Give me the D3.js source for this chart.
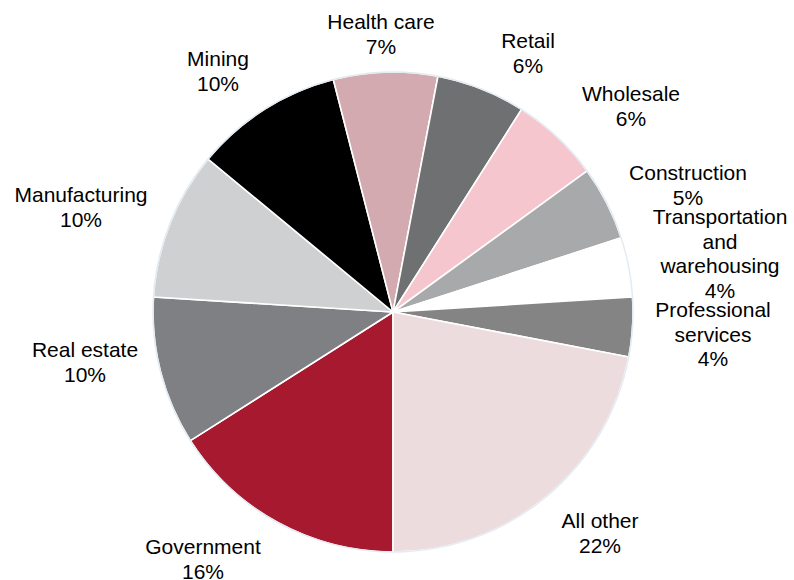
<!DOCTYPE html>
<html>
<head>
<meta charset="utf-8">
<script src="https://cdn.jsdelivr.net/npm/d3@7/dist/d3.min.js"></script>
<style>
  html, body { margin: 0; padding: 0; background: #fff; }
  svg text { font-family: "Liberation Sans", Arial, sans-serif; font-size: 21px; fill: #000; }
</style>
</head>
<body>
<svg id="chart" width="794" height="580"></svg>
<script>
// Sectors, clockwise from six o'clock
const categories = ["Government", "Real estate", "Manufacturing", "Mining", "Health care",
  "Retail", "Wholesale", "Construction", "Transportation and warehousing",
  "Professional services", "All other"];
const shares = [16, 10, 10, 10, 7, 6, 6, 5, 4, 4, 22];
// Label lines per sector (name wrapped as drawn, value appended below)
const labelLines = [["Government"], ["Real estate"], ["Manufacturing"], ["Mining"], ["Health care"],
  ["Retail"], ["Wholesale"], ["Construction"], ["Transportation", "and", "warehousing"],
  ["Professional", "services"], ["All other"]];
const colors = ["#a6192e", "#7f8083", "#cfd0d2", "#000000", "#d3aaaf",
  "#6f7072", "#f5c6ce", "#a7a9ab", "#ffffff", "#848484", "#ecdcdd"];

// Layout: label block centre x and first baseline y
const labelAnchor = [[203, 554], [85, 357], [81, 202], [218, 66], [381, 29],
  [528, 48], [631, 101], [688, 180], [720, 224], [713, 317], [600, 528]];

const cx = 393, cy = 312, radius = 240, lineGap = 24.5;

const svg = d3.select("#chart");
const g = svg.append("g").attr("transform", `translate(${cx},${cy})`);

const pie = d3.pie().sort(null).value(d => d)
  .startAngle(Math.PI).endAngle(3 * Math.PI);
const arc = d3.arc().innerRadius(0).outerRadius(radius);
const arcs = pie(shares);

g.selectAll("path.slice").data(arcs).join("path")
  .attr("class", "slice")
  .attr("d", arc)
  .attr("fill", (d, i) => colors[i])
  .attr("stroke", "#ffffff")
  .attr("stroke-width", 1.6)
  .attr("stroke-linejoin", "round");

// thin pale outline round the pie
g.append("circle").attr("r", radius)
  .attr("fill", "none").attr("stroke", "#e3ebf2").attr("stroke-width", 1.5);

const labels = svg.append("g").selectAll("text").data(arcs).join("text")
  .attr("text-anchor", "middle")
  .attr("x", (d, i) => labelAnchor[i][0])
  .attr("y", (d, i) => labelAnchor[i][1]);

labels.each(function (d, i) {
  const lines = labelLines[i].concat([d3.format("d")(shares[i]) + "%"]);
  d3.select(this).selectAll("tspan").data(lines).join("tspan")
    .attr("x", labelAnchor[i][0])
    .attr("dy", (t, j) => j === 0 ? 0 : lineGap)
    .text(t => t);
});
</script>
</body>
</html>
